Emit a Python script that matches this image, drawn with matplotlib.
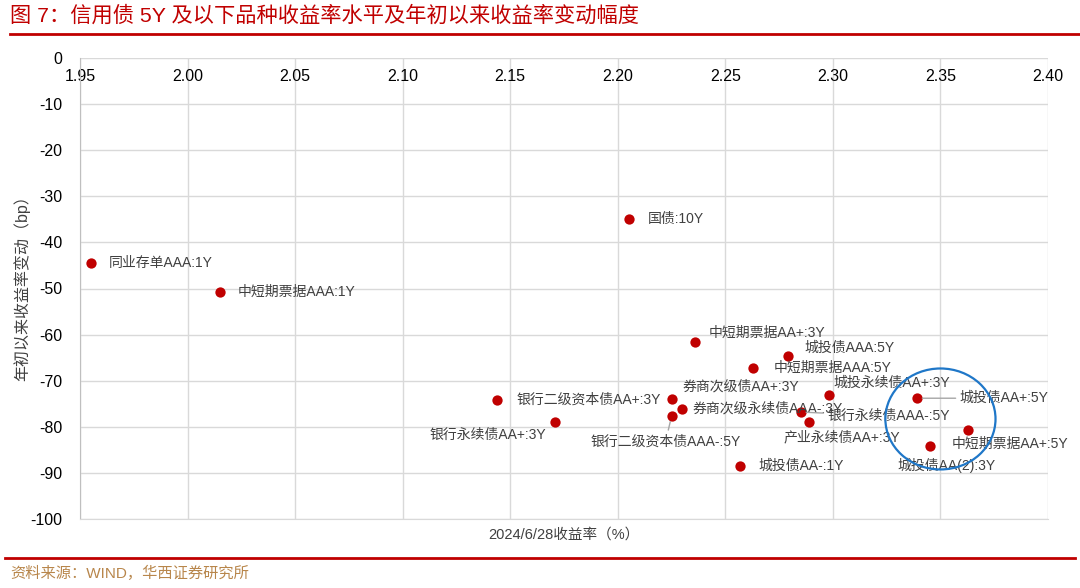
import matplotlib.pyplot as plt
from matplotlib.patches import Ellipse
from matplotlib.lines import Line2D

plt.rcParams['font.family'] = ['Liberation Sans', 'Noto Sans CJK SC', 'DejaVu Sans']
plt.rcParams['axes.unicode_minus'] = False

names = ['同业存单AAA:1Y', '中短期票据AAA:1Y', '国债:10Y', '中短期票据AA+:3Y', '城投债AAA:5Y',
         '中短期票据AAA:5Y', '券商次级债AA+:3Y', '银行二级资本债AA+:3Y', '券商次级永续债AAA-:3Y',
         '银行二级资本债AAA-:5Y', '银行永续债AA+:3Y', '城投永续债AA+:3Y', '银行永续债AAA-:5Y',
         '产业永续债AA+:3Y', '城投债AA+:5Y', '中短期票据AA+:5Y', '城投债AA(2):3Y', '城投债AA-:1Y']
rate = [1.955, 2.015, 2.205, 2.236, 2.279, 2.263, 2.225, 2.144, 2.230,
        2.225, 2.171, 2.298, 2.285, 2.289, 2.339, 2.363, 2.345, 2.257]
chg = [-44.5, -50.8, -34.9, -61.6, -64.6, -67.2, -74.0, -74.2, -76.1,
       -77.7, -79.0, -73.1, -76.8, -79.0, -73.8, -80.7, -84.2, -88.5]

# label offsets in pixels, and whether a leader line is drawn
offs = [(18, 0), (18, 0), (19, 0), (13, 9), (17, 8), (20, 0), (11, 13), (19, 0), (10, 0),
        (-81, -25), (-126, -13), (5, 12), (27, -4), (-26, -15), (43, 0), (-17, -14), (-32, -19), (18, 0)]
leader = [False] * 18
leader[9] = leader[12] = leader[14] = True

fig = plt.figure(figsize=(10.8, 5.88), dpi=100)
ax = fig.add_axes([80 / 1080, 1 - 519 / 588, 968 / 1080, 461 / 588])

ax.set_xlim(1.95, 2.40)
ax.set_ylim(-100, 0)
ax.set_xticks([1.95 + 0.05 * i for i in range(10)])
ax.set_yticks(range(-100, 1, 10))
ax.grid(True, color='#D9D9D9', lw=1)
ax.set_axisbelow(True)
for s in ['top', 'right']:
    ax.spines[s].set_visible(False)
ax.spines['left'].set_color('#BFBFBF')
ax.spines['bottom'].set_color('#D9D9D9')
ax.tick_params(axis='x', bottom=False, labelbottom=False, top=False, labeltop=True,
               pad=-22, labelsize=11.5, colors='#000000')
ax.tick_params(axis='y', left=False, labelsize=11.5, pad=9)
ax.set_xticklabels(['%.2f' % v for v in ax.get_xticks()])

ax.scatter(rate, chg, s=55, color='#C00000', zorder=3, lw=0)

for i, n in enumerate(names):
    dx, dy = offs[i]
    ap = None
    if leader[i]:
        ap = dict(arrowstyle='-', color='#A6A6A6', lw=1, shrinkA=1, shrinkB=4)
    ax.annotate(n, (rate[i], chg[i]), xytext=(dx, dy), textcoords='offset pixels',
                ha='left', va='center', fontsize=10, color='#404040', arrowprops=ap, zorder=4)

ax.add_patch(Ellipse((2.350, -78.3), 0.0512, 21.9, fill=False, ec='#1F77C8', lw=1.6, zorder=5))

ax.set_xlabel('2024/6/28收益率（%）', fontsize=10.5, color='#404040', labelpad=6)
ax.set_ylabel('年初以来收益率变动（bp）', fontsize=11.5, color='#404040')
ax.yaxis.set_label_coords(-50 / 968, 0.51)

fig.text(10 / 1080, 1 - 15 / 588, '图 7：信用债 5Y 及以下品种收益率水平及年初以来收益率变动幅度',
         fontsize=15.3, color='#C00000', va='center', ha='left')
fig.add_artist(Line2D([10 / 1080, 1], [1 - 34 / 588] * 2, color='#C00000', lw=2))
fig.add_artist(Line2D([5 / 1080, 1075 / 1080], [1 - 558 / 588] * 2, color='#C00000', lw=2))
fig.text(10 / 1080, 1 - 573 / 588, '资料来源：WIND，华西证券研究所', fontsize=11,
         color='#B8864B', va='center', ha='left')

fig.savefig('out.png', dpi=100)
